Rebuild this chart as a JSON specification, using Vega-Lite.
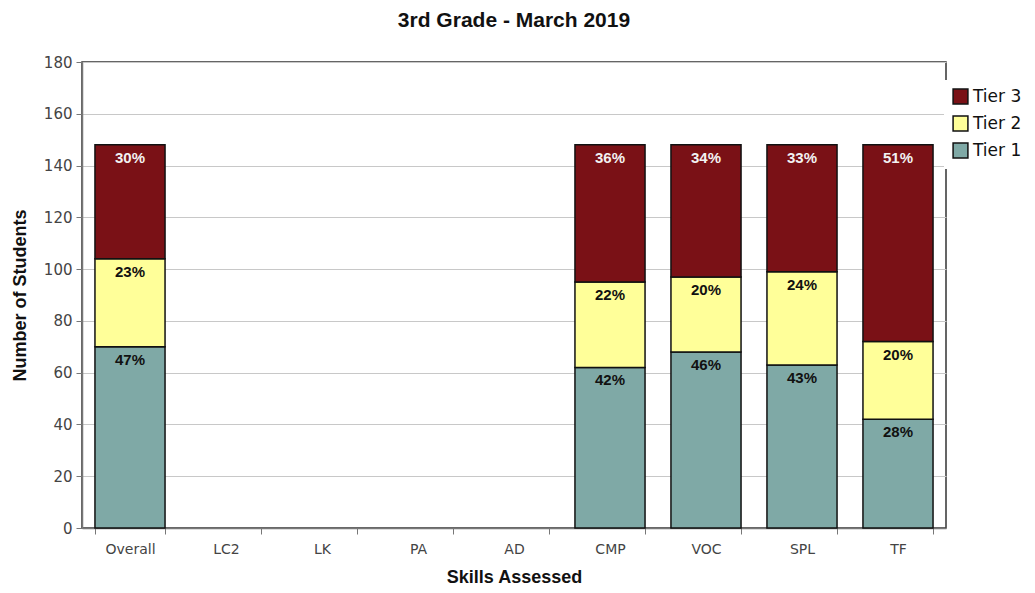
{
  "$schema": "https://vega.github.io/schema/vega-lite/v6.json",
  "width": 864,
  "height": 466,
  "autosize": {"type": "none"},
  "padding": {"left": 82, "top": 62, "right": 89, "bottom": 65},
  "background": "white",
  "title": {"text": "3rd Grade - March 2019", "font": "Liberation Sans", "fontSize": 21, "fontWeight": "bold", "color": "#111", "offset": 24, "anchor": "middle"},
  "config": {
    "view": {"stroke": "#333", "strokeWidth": 1.5},
    "axis": {"labelFont": "DejaVu Sans", "labelFontSize": 14, "labelColor": "#444", "labelOverlap": false, "titleFont": "Liberation Sans", "titleFontSize": 18, "titleFontWeight": "bold", "titleColor": "#111", "domainColor": "#777", "tickColor": "#777", "gridColor": "#c8c8c8"}
  },
  "data": {"values": [
    {"skill": "Overall", "tier": "Tier 1", "order": 1, "n": 70, "pct": "47%"},
    {"skill": "Overall", "tier": "Tier 2", "order": 2, "n": 34, "pct": "23%"},
    {"skill": "Overall", "tier": "Tier 3", "order": 3, "n": 44, "pct": "30%"},
    {"skill": "CMP", "tier": "Tier 1", "order": 1, "n": 62, "pct": "42%"},
    {"skill": "CMP", "tier": "Tier 2", "order": 2, "n": 33, "pct": "22%"},
    {"skill": "CMP", "tier": "Tier 3", "order": 3, "n": 53, "pct": "36%"},
    {"skill": "VOC", "tier": "Tier 1", "order": 1, "n": 68, "pct": "46%"},
    {"skill": "VOC", "tier": "Tier 2", "order": 2, "n": 29, "pct": "20%"},
    {"skill": "VOC", "tier": "Tier 3", "order": 3, "n": 51, "pct": "34%"},
    {"skill": "SPL", "tier": "Tier 1", "order": 1, "n": 63, "pct": "43%"},
    {"skill": "SPL", "tier": "Tier 2", "order": 2, "n": 36, "pct": "24%"},
    {"skill": "SPL", "tier": "Tier 3", "order": 3, "n": 49, "pct": "33%"},
    {"skill": "TF", "tier": "Tier 1", "order": 1, "n": 42, "pct": "28%"},
    {"skill": "TF", "tier": "Tier 2", "order": 2, "n": 30, "pct": "20%"},
    {"skill": "TF", "tier": "Tier 3", "order": 3, "n": 76, "pct": "51%"}
  ]},
  "transform": [
    {"stack": "n", "groupby": ["skill"], "sort": [{"field": "order", "order": "ascending"}], "as": ["y0", "y1"]}
  ],
  "encoding": {
    "x": {"field": "skill", "type": "nominal", "sort": null,
      "scale": {"domain": ["Overall", "LC2", "LK", "PA", "AD", "CMP", "VOC", "SPL", "TF"], "paddingInner": 0.27, "paddingOuter": 0.135},
      "axis": {"title": "Skills Assessed", "labelAngle": 0, "tickBand": "extent", "tickSize": 6, "labelPadding": 8, "titlePadding": 12, "domainWidth": 1.5}}
  },
  "layer": [
    {
      "mark": {"type": "bar", "stroke": "#111", "strokeWidth": 1.5},
      "encoding": {
        "y": {"field": "y0", "type": "quantitative", "scale": {"domain": [0, 180]},
          "axis": {"title": "Number of Students", "values": [0,20,40,60,80,100,120,140,160,180], "labelFontSize": 15, "tickSize": 6, "labelPadding": 4, "titlePadding": 14, "domainWidth": 1.5}},
        "y2": {"field": "y1"},
        "color": {"field": "tier", "type": "nominal",
          "scale": {"domain": ["Tier 3", "Tier 2", "Tier 1"], "range": ["#7a1116", "#ffff99", "#7fa9a6"]},
          "legend": {"title": null, "orient": "none", "legendX": 862, "legendY": 18, "fillColor": "white", "padding": 8, "symbolType": "square", "symbolSize": 220, "symbolStrokeColor": "#111", "symbolStrokeWidth": 1.5, "labelFont": "DejaVu Sans", "labelFontSize": 17, "labelColor": "#111", "rowPadding": 6, "symbolOpacity": 1}}
      }
    },
    {
      "mark": {"type": "text", "baseline": "top", "dy": 6, "font": "Liberation Sans", "fontSize": 15, "fontWeight": "bold"},
      "encoding": {
        "y": {"field": "y1", "type": "quantitative"},
        "text": {"field": "pct", "type": "nominal"},
        "color": {"condition": {"test": "datum.tier === 'Tier 3'", "value": "#f2f2f2"}, "value": "#111"}
      }
    }
  ]
}
